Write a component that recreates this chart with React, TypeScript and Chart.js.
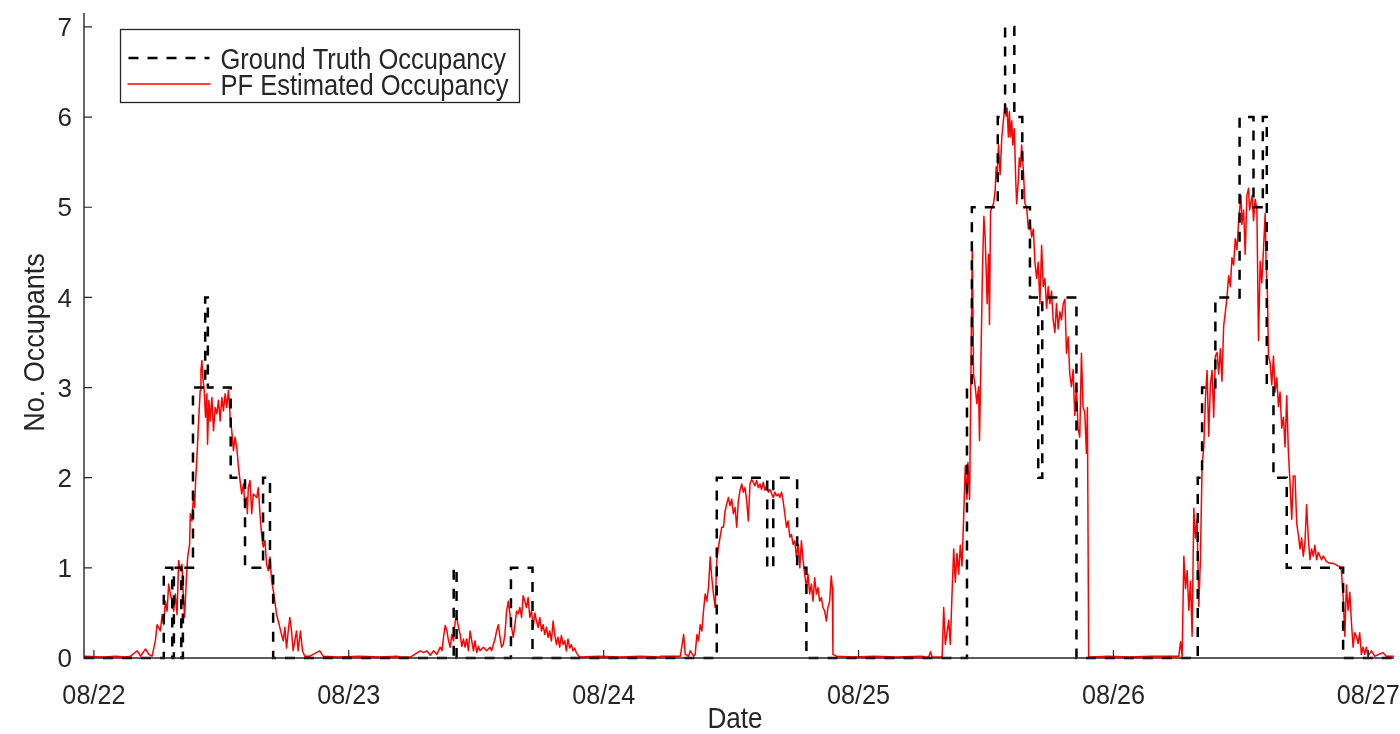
import React, { useEffect, useRef } from "react";
import { Chart, registerables } from "chart.js";

Chart.register(...registerables);

// ---------- data (hours since 08/22 00:00) ----------
const dayTicks = [0, 24, 48, 72, 96, 120];
const dayLabels = ["08/22", "08/23", "08/24", "08/25", "08/26", "08/27"];
const yTicks = [0, 1, 2, 3, 4, 5, 6, 7];

const seriesNames = ["Ground Truth Occupancy", "PF Estimated Occupancy"];

// ground truth: [hour at which the value starts, occupants]
const groundTruthSteps: [number, number][] = [
  [-0.93, 0], [6.58, 1], [7.38, 0], [7.53, 1], [8.23, 0], [8.38, 1], [9.33, 3], [10.48, 4],
  [10.73, 3], [12.88, 2], [14.23, 1], [15.93, 2], [16.58, 1], [16.88, 0],
  [33.88, 1], [34.15, 0], [39.27, 1], [41.3, 0],
  [58.65, 2], [63.4, 1], [63.97, 2], [66.22, 1], [67.09, 0],
  [82.21, 3], [82.67, 5], [85.11, 6], [85.8, 7], [86.67, 6], [87.42, 5], [88.14, 4],
  [88.92, 2], [89.3, 4], [92.52, 0],
  [103.94, 2], [104.35, 3], [105.6, 4], [107.88, 6], [109.19, 5], [110.07, 6], [110.44, 3],
  [111.07, 2], [112.32, 1], [117.63, 0], [122.42, 0],
];

// particle filter estimate: [hour, occupants]
const pfDay22: [number, number][] = [
  [-0.93, 0.02], [1.0, 0.01], [2.0, 0.02], [3.0, 0.01], [3.45, 0.02], [4.08, 0.08], [4.39, 0.02],
  [4.86, 0.1], [5.17, 0.04], [5.48, 0.02], [5.79, 0.19], [5.95, 0.37], [6.26, 0.3], [6.42, 0.48],
  [6.58, 0.37], [6.73, 0.63], [6.89, 0.52], [7.04, 0.82], [7.2, 0.71], [7.36, 0.63], [7.51, 0.52],
  [7.67, 0.71], [7.83, 0.48], [7.98, 1.08], [8.14, 0.97], [8.29, 1.04], [8.45, 0.63], [8.54, 0.45],
  [8.7, 0.86], [8.83, 1.12], [9.01, 1.26], [9.08, 1.6], [9.23, 1.52], [9.39, 1.82], [9.48, 1.67],
  [9.58, 1.97], [9.7, 2.23], [9.86, 2.63], [10.01, 2.97], [10.08, 3.19], [10.17, 3.3], [10.26, 3.11],
  [10.39, 2.97], [10.51, 2.67], [10.64, 2.93], [10.7, 2.37], [10.83, 2.86], [10.95, 2.63],
  [11.11, 2.89], [11.26, 2.52], [11.42, 2.78], [11.58, 2.71], [11.73, 2.86], [11.89, 2.63],
  [12.05, 2.89], [12.2, 2.74], [12.36, 2.93], [12.51, 2.78], [12.67, 2.97], [12.83, 2.67],
  [12.98, 2.52], [13.14, 2.3], [13.29, 2.45], [13.45, 2.34], [13.61, 2.12], [13.76, 1.97],
  [13.92, 1.82], [14.08, 1.93], [14.23, 1.67], [14.39, 1.78], [14.45, 1.6], [14.54, 1.89],
  [14.7, 1.97], [14.86, 1.6], [15.01, 1.82], [15.33, 1.78], [15.48, 1.89], [15.64, 1.6],
  [15.79, 1.37], [15.95, 1.23], [16.11, 1.3], [16.26, 1.04], [16.42, 0.97], [16.58, 1.12],
  [16.73, 0.86], [16.89, 0.75], [17.04, 0.63], [17.2, 0.48], [17.36, 0.41], [17.67, 0.26],
  [17.83, 0.19], [17.98, 0.34], [18.14, 0.11], [18.3, 0.3], [18.45, 0.45], [18.61, 0.3],
  [18.76, 0.08], [18.92, 0.19], [19.08, 0.3], [19.23, 0.08], [19.45, 0.3], [19.64, 0.08],
  [19.86, 0.02], [20.33, 0.02], [21.26, 0.08], [21.58, 0.02], [23.0, 0.01], [25.0, 0.02],
  [27.0, 0.01], [28.5, 0.02],
];

const pfDay23: [number, number][] = [
  [28.86, 0.01], [29.8, 0.01], [30.73, 0.08], [31.05, 0.06], [31.36, 0.08], [31.67, 0.03],
  [31.99, 0.08], [32.3, 0.04], [32.61, 0.12], [32.77, 0.08], [32.92, 0.23], [33.08, 0.36],
  [33.24, 0.3], [33.39, 0.19], [33.55, 0.12], [33.7, 0.26], [33.86, 0.19], [34.02, 0.41],
  [34.17, 0.45], [34.33, 0.34], [34.49, 0.26], [34.64, 0.13], [34.8, 0.21], [34.95, 0.12],
  [35.11, 0.21], [35.27, 0.08], [35.42, 0.3], [35.58, 0.19], [35.74, 0.08], [35.89, 0.19],
  [36.05, 0.06], [36.2, 0.13], [36.36, 0.08], [36.67, 0.12], [36.99, 0.08], [37.3, 0.12],
  [37.45, 0.08], [37.61, 0.15], [37.77, 0.21], [37.92, 0.3], [38.08, 0.37], [38.24, 0.23],
  [38.39, 0.12], [38.55, 0.15], [38.7, 0.26], [38.86, 0.52], [39.02, 0.63], [39.17, 0.49],
  [39.33, 0.34], [39.49, 0.23], [39.64, 0.37], [39.8, 0.52], [39.95, 0.49], [40.11, 0.56],
  [40.27, 0.45], [40.42, 0.69], [40.58, 0.63], [40.73, 0.56], [40.89, 0.67], [41.05, 0.45],
  [41.2, 0.52], [41.36, 0.34], [41.52, 0.5], [41.67, 0.41], [41.83, 0.34], [41.99, 0.45],
  [42.14, 0.3], [42.3, 0.37], [42.45, 0.26], [42.61, 0.34], [42.77, 0.23], [42.92, 0.3],
  [43.08, 0.19], [43.24, 0.41], [43.39, 0.26], [43.55, 0.15], [43.7, 0.23], [43.86, 0.12],
  [44.02, 0.25], [44.17, 0.15], [44.33, 0.19], [44.49, 0.08], [44.64, 0.21], [44.8, 0.11],
  [44.95, 0.15], [45.11, 0.08], [45.27, 0.11], [45.42, 0.06], [45.73, 0.01], [47.5, 0.02],
  [49.5, 0.01], [51.5, 0.02], [53.3, 0.01],
];

const pfDay24: [number, number][] = [
  [53.34, 0.02], [55.22, 0.02], [55.53, 0.26], [55.68, 0.04], [56.0, 0.02], [56.15, 0.08],
  [56.47, 0.02], [56.62, 0.04], [56.78, 0.26], [56.93, 0.19], [57.09, 0.37], [57.25, 0.3],
  [57.4, 0.52], [57.56, 0.71], [57.71, 0.63], [57.87, 0.78], [58.03, 1.12], [58.18, 0.89],
  [58.34, 0.71], [58.5, 0.56], [58.65, 1.08], [58.81, 1.23], [58.96, 1.34], [59.12, 1.45],
  [59.28, 1.45], [59.43, 1.63], [59.59, 1.71], [59.75, 1.78], [59.9, 1.69], [60.06, 1.76],
  [60.21, 1.6], [60.37, 1.67], [60.53, 1.45], [60.68, 1.74], [60.84, 1.86], [61.0, 1.93],
  [61.15, 1.84], [61.31, 1.89], [61.47, 1.74], [61.62, 1.52], [61.78, 1.93], [61.93, 1.98],
  [62.09, 1.95], [62.25, 1.91], [62.4, 1.97], [62.56, 1.89], [62.72, 1.93], [62.87, 1.87],
  [63.03, 1.95], [63.18, 1.86], [63.34, 1.91], [63.5, 1.84], [63.65, 1.87], [63.97, 1.78],
  [64.12, 1.84], [64.28, 1.8], [64.43, 1.82], [64.59, 1.78], [64.75, 1.84], [64.9, 1.74],
  [65.06, 1.6], [65.22, 1.45], [65.37, 1.52], [65.53, 1.34], [65.68, 1.37], [65.84, 1.26],
  [66.0, 1.3], [66.15, 1.12], [66.31, 1.26], [66.47, 1.0], [66.62, 1.3], [66.78, 1.08],
  [66.93, 0.93], [67.09, 0.78], [67.24, 0.93], [67.4, 0.71], [67.56, 0.82], [67.71, 0.63],
  [67.87, 0.89], [68.03, 0.71], [68.18, 0.78], [68.34, 0.63], [68.5, 0.67], [68.65, 0.56],
  [68.81, 0.52], [68.97, 0.41], [69.12, 0.56], [69.28, 0.63], [69.43, 0.91], [69.53, 0.78],
  [69.59, 0.04], [69.9, 0.02], [71.5, 0.01], [73.5, 0.02], [75.5, 0.01], [78.0, 0.02],
];

const pfDay25: [number, number][] = [
  [78.3, 0.01], [78.61, 0.01], [78.77, 0.07], [78.93, 0.01], [79.87, 0.01], [80.02, 0.56],
  [80.17, 0.15], [80.33, 0.28], [80.49, 0.42], [80.64, 0.15], [80.8, 0.7], [80.96, 1.21],
  [81.11, 0.84], [81.27, 1.16], [81.43, 0.93], [81.58, 1.25], [81.74, 1.02], [81.89, 1.53],
  [82.05, 2.13], [82.21, 1.76], [82.3, 2.17], [82.46, 1.76], [82.61, 3.47], [82.71, 4.58],
  [82.83, 3.15], [82.99, 3.01], [83.14, 2.82], [83.3, 3.01], [83.39, 2.41], [83.55, 3.47],
  [83.67, 4.3], [83.8, 4.9], [83.92, 4.67], [84.02, 4.3], [84.11, 3.93], [84.24, 4.48],
  [84.33, 3.7], [84.43, 4.95], [84.55, 5.0], [84.71, 5.04], [84.86, 5.18], [84.96, 5.45],
  [85.05, 5.32], [85.18, 5.69], [85.33, 5.36], [85.49, 5.78], [85.64, 5.96], [85.8, 6.15],
  [85.89, 6.01], [85.99, 6.1], [86.11, 5.78], [86.21, 6.06], [86.3, 5.78], [86.43, 5.96],
  [86.52, 5.69], [86.67, 5.87], [86.8, 5.31], [86.89, 5.04], [87.05, 5.31], [87.14, 5.55],
  [87.24, 5.45], [87.36, 5.69], [87.52, 5.41], [87.67, 5.04], [87.83, 5.0], [87.99, 4.76],
  [88.14, 4.85], [88.3, 4.67], [88.46, 4.76], [88.61, 4.39], [88.77, 4.21], [88.92, 4.39],
  [89.08, 3.93], [89.24, 4.58], [89.39, 4.12], [89.55, 4.21], [89.71, 3.88], [89.86, 4.12],
  [90.02, 3.93], [90.17, 4.07], [90.33, 3.75], [90.49, 3.61], [90.64, 3.93], [90.8, 3.65],
  [90.96, 3.84], [91.11, 3.75], [91.27, 3.93], [91.43, 3.98], [91.58, 3.38], [91.74, 3.56],
  [91.89, 3.15], [92.05, 3.01], [92.21, 3.2], [92.36, 2.69], [92.52, 3.01], [92.67, 2.55],
  [92.83, 2.45], [92.99, 3.38], [93.14, 2.78], [93.3, 2.73], [93.46, 2.27], [93.55, 2.78],
  [93.67, 0.01], [93.92, 0.01], [95.5, 0.02], [97.5, 0.01], [99.5, 0.02], [101.2, 0.02],
];

const pfDay26: [number, number][] = [
  [101.38, 0.02], [102.16, 0.02], [102.32, 0.18], [102.47, 0.02], [102.63, 1.13], [102.79, 0.77],
  [102.94, 0.97], [103.1, 0.53], [103.26, 0.85], [103.41, 0.24], [103.57, 1.66], [103.72, 1.33],
  [103.88, 1.54], [104.04, 0.57], [104.19, 1.09], [104.35, 2.14], [104.51, 2.34], [104.66, 2.87],
  [104.82, 3.19], [104.97, 2.46], [105.13, 3.03], [105.29, 3.19], [105.44, 2.67], [105.6, 3.35],
  [105.76, 3.39], [105.91, 3.15], [106.07, 3.43], [106.22, 3.07], [106.38, 3.68], [106.54, 3.84],
  [106.69, 4.0], [106.85, 4.24], [107.01, 4.12], [107.16, 4.44], [107.32, 4.36], [107.47, 4.65],
  [107.63, 4.53], [107.79, 4.85], [107.88, 4.97], [108.01, 5.13], [108.1, 4.81], [108.26, 4.97],
  [108.41, 4.48], [108.57, 5.13], [108.72, 5.21], [108.82, 4.97], [108.94, 5.05], [109.07, 5.13],
  [109.19, 4.85], [109.35, 5.09], [109.51, 4.97], [109.66, 3.52], [109.82, 4.4], [109.97, 4.16],
  [110.13, 4.53], [110.29, 4.93], [110.38, 4.36], [110.51, 4.0], [110.6, 3.35], [110.76, 3.27],
  [110.91, 3.03], [111.07, 3.35], [111.22, 2.95], [111.38, 3.11], [111.54, 2.79], [111.69, 2.95],
  [111.85, 2.55], [112.01, 2.67], [112.16, 2.34], [112.32, 2.91], [112.47, 2.3], [112.63, 1.94],
  [112.79, 1.54], [112.94, 2.02], [113.1, 2.02], [113.26, 1.49], [113.41, 1.37], [113.57, 1.21],
  [113.72, 1.33], [113.88, 1.13], [114.04, 1.29], [114.19, 1.7], [114.35, 1.33], [114.51, 1.09],
  [114.66, 1.21], [114.82, 1.13], [114.97, 1.25], [115.13, 1.09], [115.29, 1.17], [115.44, 1.13],
  [115.6, 1.09], [115.76, 1.13], [116.07, 1.07], [116.38, 1.05], [116.69, 1.05], [117.01, 1.03],
  [117.32, 1.01], [117.47, 0.97], [117.63, 0.69], [117.79, 0.24], [117.94, 0.81], [118.1, 0.53],
  [118.26, 0.73], [118.41, 0.4], [118.57, 0.12], [118.72, 0.28], [118.88, 0.24], [119.04, 0.16],
  [119.19, 0.28], [119.35, 0.04], [119.51, 0.12], [119.66, 0.04], [119.82, 0.12], [119.97, 0.02],
  [120.29, 0.08], [120.6, 0.02], [121.38, 0.06], [121.69, 0.02], [122.4, 0.02],
];

// ---------- styling ----------
const FONT = '"Liberation Sans", Arial, Helvetica, sans-serif';
const INK = "#262626";
const GT_DASH = [10, 9];

function drawText(
  ctx: CanvasRenderingContext2D,
  s: string,
  x: number,
  y: number,
  size: number,
  align: CanvasTextAlign,
  squeeze: number,
  rotate = 0
) {
  ctx.save();
  ctx.translate(x, y);
  if (rotate) ctx.rotate(rotate);
  ctx.scale(squeeze, 1);
  ctx.font = `${size}px ${FONT}`;
  ctx.textAlign = align;
  ctx.textBaseline = "alphabetic";
  ctx.fillStyle = INK;
  ctx.fillText(s, 0, 0);
  ctx.restore();
}

const matlabAxes = {
  id: "matlabAxes",
  afterDatasetsDraw(chart: any) {
    const { ctx, chartArea: a } = chart;
    const xs = chart.scales.x;
    const ys = chart.scales.y;
    ctx.save();
    // axis lines
    ctx.strokeStyle = INK;
    ctx.lineWidth = 1.4;
    ctx.setLineDash([]);
    ctx.beginPath();
    ctx.moveTo(a.left, a.top);
    ctx.lineTo(a.left, a.bottom);
    ctx.lineTo(a.right, a.bottom);
    ctx.stroke();
    // inward ticks
    ctx.lineWidth = 1.2;
    ctx.beginPath();
    ys.ticks.forEach((t: any) => {
      const py = ys.getPixelForValue(t.value);
      ctx.moveTo(a.left, py);
      ctx.lineTo(a.left + 8, py);
    });
    xs.ticks.forEach((t: any) => {
      const px = xs.getPixelForValue(t.value);
      ctx.moveTo(px, a.bottom);
      ctx.lineTo(px, a.bottom - 8);
    });
    ctx.stroke();
    // tick labels
    ys.ticks.forEach((t: any) => {
      drawText(ctx, String(t.value), a.left - 12, ys.getPixelForValue(t.value) + 9.2, 26, "right", 1);
    });
    xs.ticks.forEach((t: any) => {
      const i = dayTicks.indexOf(t.value);
      drawText(ctx, dayLabels[i], xs.getPixelForValue(t.value), 704, 28, "center", 0.9);
    });
    // axis titles
    drawText(ctx, "Date", (a.left + a.right) / 2 - 4, 728, 29, "center", 0.9);
    const yMid = (ys.getPixelForValue(0) + ys.getPixelForValue(7)) / 2;
    drawText(ctx, "No. Occupants", 44, yMid, 30, "center", 0.9, -Math.PI / 2);

    // legend (north-west)
    const lx = a.left + 36.5;
    const ly = 29.5;
    ctx.fillStyle = "#ffffff";
    ctx.fillRect(lx, ly, 399, 73);
    ctx.strokeStyle = INK;
    ctx.lineWidth = 1.3;
    ctx.strokeRect(lx, ly, 399, 73);
    // row 1
    ctx.strokeStyle = "#000000";
    ctx.lineWidth = 2.5;
    ctx.setLineDash(GT_DASH);
    ctx.beginPath();
    ctx.moveTo(lx + 8, 58);
    ctx.lineTo(lx + 89, 58);
    ctx.stroke();
    ctx.setLineDash([]);
    drawText(ctx, seriesNames[0], lx + 100, 68.5, 29, "left", 0.88);
    // row 2
    ctx.strokeStyle = "#ff0000";
    ctx.lineWidth = 1.5;
    ctx.beginPath();
    ctx.moveTo(lx + 7, 84);
    ctx.lineTo(lx + 90, 84);
    ctx.stroke();
    drawText(ctx, seriesNames[1], lx + 100, 94.5, 29, "left", 0.88);
    ctx.restore();
  },
};

export default function App() {
  const ref = useRef<HTMLCanvasElement | null>(null);

  useEffect(() => {
    if (!ref.current) return;
    const toPts = (arr: [number, number][]) => arr.map(([x, y]) => ({ x, y }));
    const pfAll = [...pfDay22, ...pfDay23, ...pfDay24, ...pfDay25, ...pfDay26];

    const chart = new Chart(ref.current, {
      type: "line",
      data: {
        datasets: [
          {
            label: seriesNames[0],
            data: toPts(groundTruthSteps),
            borderColor: "#000000",
            borderWidth: 2.5,
            borderDash: GT_DASH,
            stepped: "before",
            pointRadius: 0,
            fill: false,
            clip: false,
          } as any,
          {
            label: seriesNames[1],
            data: toPts(pfAll),
            borderColor: "#ff0000",
            borderWidth: 1.5,
            borderJoinStyle: "round",
            pointRadius: 0,
            tension: 0,
            fill: false,
            clip: false,
          } as any,
        ],
      },
      options: {
        responsive: false,
        animation: false,
        events: [],
        layout: { padding: { left: 84, right: 6, top: 13, bottom: 76 } },
        plugins: { legend: { display: false }, tooltip: { enabled: false } },
        scales: {
          x: {
            type: "linear",
            min: -0.932,
            max: 122.42,
            afterBuildTicks: (s: any) => {
              s.ticks = dayTicks.map((v) => ({ value: v }));
            },
            afterFit: (s: any) => {
              s.height = 0;
            },
            ticks: { display: false },
            grid: { display: false, drawTicks: false },
            border: { display: false },
          },
          y: {
            type: "linear",
            min: 0,
            max: 7.155,
            afterBuildTicks: (s: any) => {
              s.ticks = yTicks.map((v) => ({ value: v }));
            },
            afterFit: (s: any) => {
              s.width = 0;
            },
            ticks: { display: false },
            grid: { display: false, drawTicks: false },
            border: { display: false },
          },
        },
      } as any,
      plugins: [matlabAxes],
    });
    return () => chart.destroy();
  }, []);

  return (
    <div style={{ position: "fixed", left: 0, top: 0, width: 1400, height: 734, background: "#fff" }}>
      <canvas ref={ref} width={1400} height={734} style={{ display: "block" }} />
    </div>
  );
}
